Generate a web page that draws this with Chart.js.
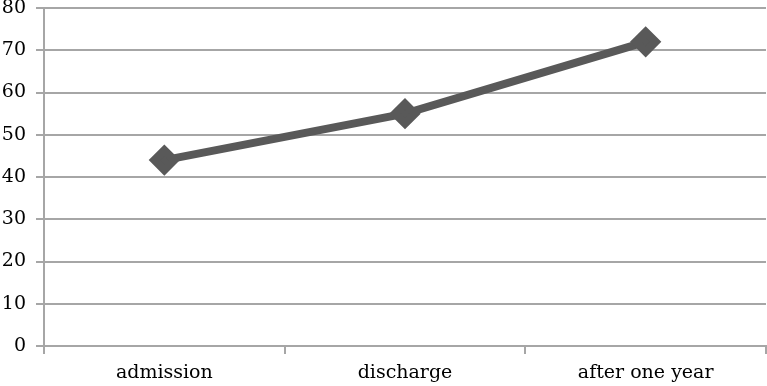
<!DOCTYPE html>
<html>
<head>
<meta charset="utf-8">
<script src="https://cdn.jsdelivr.net/npm/chart.js@4"></script>
<style>
  html, body { margin: 0; padding: 0; background: #ffffff; }
  #wrap { width: 767px; height: 386px; }
</style>
</head>
<body>
<div id="wrap"><canvas id="chart" width="767" height="386"></canvas></div>
<script>
// Chart data
const categories = ['admission', 'discharge', 'after one year'];
const values = [44, 55, 72];
const yMin = 0;
const yMax = 80;
const yStep = 10;

const gridColor = '#a6a6a6';
const lineColor = '#595959';
const labelFont = { family: "'DejaVu Serif', 'Liberation Serif', serif", size: 19 };

// keep the plot area fixed: no extra room for half-labels at the edges
const noPad = (s) => {
    s.paddingTop = 0; s.paddingBottom = 0;
    s.paddingLeft = 0; s.paddingRight = 0;
};

const ctx = document.getElementById('chart').getContext('2d');
new Chart(ctx, {
    type: 'line',
    data: {
        labels: categories,
        datasets: [{
            data: values,
            borderColor: lineColor,
            backgroundColor: lineColor,
            borderWidth: 8,
            pointStyle: 'rectRot',
            pointRadius: 10,
            pointHoverRadius: 10,
            tension: 0,
            clip: false
        }]
    },
    options: {
        responsive: false,
        animation: false,
        layout: { autoPadding: false, padding: { top: 8, right: 1, left: 0, bottom: 0 } },
        plugins: {
            legend: { display: false },
            tooltip: { enabled: false }
        },
        scales: {
            x: {
                offset: true,
                grid: {
                    offset: true,
                    drawOnChartArea: false,
                    color: gridColor,
                    lineWidth: 2,
                    tickLength: 8
                },
                border: { color: gridColor, width: 2 },
                ticks: { color: '#000', font: labelFont, padding: 8, maxRotation: 0 },
                afterFit: (s) => { s.height = 40; noPad(s); }
            },
            y: {
                min: yMin,
                max: yMax,
                grid: { color: gridColor, lineWidth: 2, tickLength: 8 },
                border: { color: gridColor, width: 2 },
                ticks: { stepSize: yStep, color: '#000', font: labelFont, padding: 10 },
                afterFit: (s) => { s.width = 44; noPad(s); }
            }
        }
    }
});
</script>
</body>
</html>
